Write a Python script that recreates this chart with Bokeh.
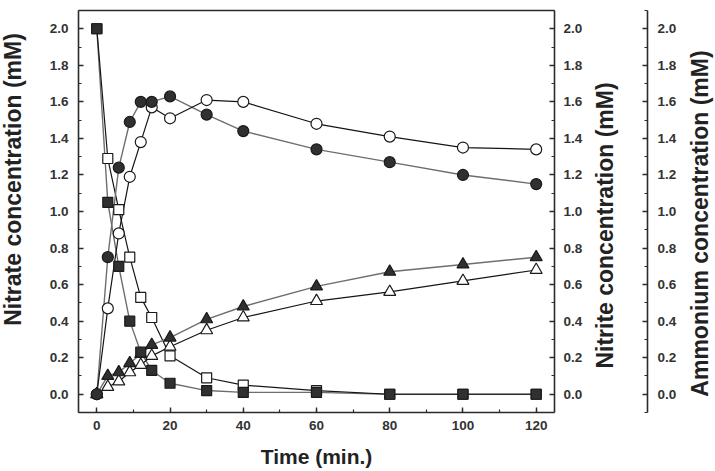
import math

from bokeh.plotting import figure
from bokeh.models import (LinearAxis, Range1d, SingleIntervalTicker, FixedTicker,
                          NumeralTickFormatter)
from bokeh.core.properties import value
from bokeh.embed import file_html
from bokeh.resources import INLINE

# Sampling times (min.)
time_min = [0, 3, 6, 9, 12, 15, 20, 30, 40, 60, 80, 100, 120]

# Nitrate (squares)
nitrate_filled = [2.00, 1.05, 0.70, 0.40, 0.23, 0.13, 0.06, 0.02, 0.01, 0.01, 0.00, 0.00, 0.00]
nitrate_open = [2.00, 1.29, 1.01, 0.75, 0.53, 0.42, 0.21, 0.09, 0.05, 0.02, 0.00, 0.00, 0.00]

# Nitrite (circles)
nitrite_filled = [0.00, 0.75, 1.24, 1.49, 1.60, 1.60, 1.63, 1.53, 1.44, 1.34, 1.27, 1.20, 1.15]
nitrite_open = [0.00, 0.47, 0.88, 1.19, 1.38, 1.57, 1.51, 1.61, 1.60, 1.48, 1.41, 1.35, 1.34]

# Ammonium (triangles)
ammonium_filled = [0.00, 0.10, 0.12, 0.17, 0.22, 0.27, 0.31, 0.41, 0.48, 0.59, 0.67, 0.71, 0.75]
ammonium_open = [0.00, 0.04, 0.07, 0.12, 0.16, 0.21, 0.26, 0.35, 0.42, 0.51, 0.56, 0.62, 0.68]

x_title = "Time (min.)"
y_left_title = "Nitrate concentration (mM)"
y_right_title = "Nitrite concentration (mM)"
y_far_title = "Ammonium concentration (mM)"

# ---- layout -------------------------------------------------------------
# The whole canvas is the plot frame; the axes sit at fixed data positions so
# the three stacked y axes and their titles can be placed freely.
W, H = 715, 471
BOX_LEFT, BOX_RIGHT, BOX_TOP, BOX_BOTTOM = 78, 554, 10, 412   # axes box, px
T0, T1 = -5, 125          # time span of the axes box
C0, C1 = -0.1, 2.1        # concentration span of the axes box

px_x = (BOX_RIGHT - BOX_LEFT) / (T1 - T0)
px_y = (BOX_BOTTOM - BOX_TOP) / (C1 - C0)
x_lo, x_hi = T0 - BOX_LEFT / px_x, T1 + (W - BOX_RIGHT) / px_x
y_lo, y_hi = C0 - (H - BOX_BOTTOM) / px_y, C1 + BOX_TOP / px_y


def x_at(px):
    return x_lo + px / px_x


def y_at(py):
    return y_hi - py / px_y


FONT = "Liberation Sans"
AX = "#2b2b2b"
TICK_TXT = "#333333"
TITLE_TXT = "#222222"
FILL_DARK = "#303030"
LINE_GRAY = "#6e6e6e"
LINE_BLACK = "#151515"

p = figure(width=W, height=H, output_backend="svg", toolbar_location=None,
           x_range=Range1d(x_lo, x_hi), y_range=Range1d(y_lo, y_hi),
           min_border=0, min_border_left=0, min_border_right=0,
           min_border_top=0, min_border_bottom=0,
           x_axis_location=None, y_axis_location=None)
p.grid.visible = False
p.outline_line_color = None
p.background_fill_color = "white"
p.border_fill_color = "white"
p.extra_y_ranges = {"nitrite": Range1d(y_lo, y_hi), "ammonium": Range1d(y_lo, y_hi)}


def style_axis(ax, standoff):
    ax.axis_line_color = AX
    ax.axis_line_width = 1.6
    ax.major_tick_line_color = AX
    ax.minor_tick_line_color = AX
    ax.major_tick_line_width = 1.4
    ax.minor_tick_line_width = 1.2
    ax.major_tick_in = 5
    ax.major_tick_out = 0
    ax.minor_tick_in = 3
    ax.minor_tick_out = 0
    ax.major_label_standoff = standoff
    ax.major_label_text_font = FONT
    ax.major_label_text_font_style = "bold"
    ax.major_label_text_font_size = "13.5px"
    ax.major_label_text_color = TICK_TXT


x_axis = LinearAxis(ticker=SingleIntervalTicker(interval=20, num_minor_ticks=2),
                    fixed_location=C0, bounds=(T0, T1))
style_axis(x_axis, 8)
p.add_layout(x_axis, "below")

# plain line closing the box at the top
top_line = LinearAxis(ticker=FixedTicker(ticks=[]), fixed_location=C1, bounds=(T0, T1),
                      axis_line_color=AX, axis_line_width=1.6,
                      major_tick_in=0, major_tick_out=0, minor_tick_in=0, minor_tick_out=0)
p.add_layout(top_line, "above")

y_ticker = SingleIntervalTicker(interval=0.2, num_minor_ticks=2)
y_fmt = NumeralTickFormatter(format="0.0")

y_left = LinearAxis(ticker=y_ticker, formatter=y_fmt, fixed_location=T0, bounds=(C0, C1))
style_axis(y_left, 10)
p.add_layout(y_left, "left")

y_right = LinearAxis(y_range_name="nitrite", ticker=y_ticker, formatter=y_fmt,
                     fixed_location=T1, bounds=(C0, C1))
style_axis(y_right, 9)
p.add_layout(y_right, "right")

y_far = LinearAxis(y_range_name="ammonium", ticker=y_ticker, formatter=y_fmt,
                   fixed_location=x_at(647), bounds=(C0, C1))
style_axis(y_far, 10)
p.add_layout(y_far, "right")

# connecting lines, then the markers on top
series = [
    (nitrate_filled, "square", True, 10, "default"),
    (nitrate_open, "square", False, 10, "default"),
    (nitrite_filled, "circle", True, 11, "nitrite"),
    (nitrite_open, "circle", False, 11, "nitrite"),
    (ammonium_filled, "triangle", True, 12, "ammonium"),
    (ammonium_open, "triangle", False, 12, "ammonium"),
]
for ys, marker, filled, size, rng in series:
    kw = {} if rng == "default" else {"y_range_name": rng}
    p.line(time_min, ys, line_color=LINE_GRAY if filled else LINE_BLACK,
           line_width=1.4 if filled else 1.2, **kw)

for ys, marker, filled, size, rng in [series[5], series[4], series[1], series[0],
                                       series[3], series[2]]:
    kw = {} if rng == "default" else {"y_range_name": rng}
    p.scatter(time_min, ys, marker=marker, size=size,
              fill_color=FILL_DARK if filled else "white",
              line_color="#1a1a1a", line_width=1.2, **kw)

# axis titles
title_style = dict(text_font=value(FONT), text_font_style="bold", text_color=TITLE_TXT,
                   text_align="center", text_baseline="middle")
p.text(x=[x_at(316)], y=[y_at(456)], text=[x_title], text_font_size="21px",
       **title_style)
p.text(x=[x_at(12), x_at(604), x_at(699)], y=[y_at(179), y_at(225), y_at(223)],
       text=[y_left_title, y_right_title, y_far_title], angle=math.pi / 2,
       text_font_size="23px", **title_style)

open("out.html", "w").write(file_html(p, INLINE))
